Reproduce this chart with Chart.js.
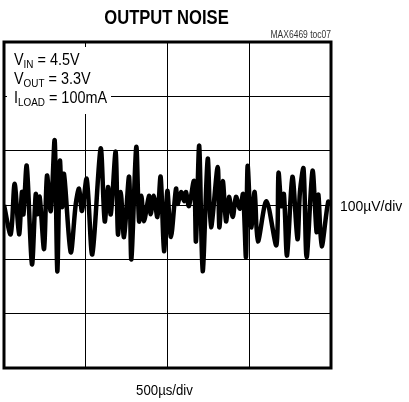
<!DOCTYPE html>
<html>
<head>
<meta charset="utf-8">
<script src="https://cdn.jsdelivr.net/npm/chart.js@4/dist/chart.umd.min.js"></script>
<style>
  body { margin: 0; background: #fff; }
  #wrap { width: 409px; height: 402px; }
</style>
</head>
<body>
<div id="wrap"><canvas id="noiseChart"></canvas></div>
<script>
// time in microseconds (500us/div, 4 div)
let timeUs = [0, 41, 65, 92, 110, 119, 139, 171, 194, 205, 218, 245, 263, 286, 310, 326, 342, 355, 367, 408,
    439, 459, 477, 506, 540, 591, 616, 636, 653, 683, 697, 714, 734, 765, 779, 809, 826, 840, 856, 887,
    897, 917, 938, 958, 979, 999, 1021, 1052, 1062, 1083, 1101, 1113, 1131, 1162, 1174, 1194, 1215, 1246, 1266, 1307,
    1317, 1338, 1358, 1376, 1399, 1419, 1443, 1462, 1480, 1490, 1512, 1533, 1553, 1605, 1666, 1679, 1697, 1712, 1731, 1764,
    1795, 1810, 1832, 1851, 1887, 1912, 1923, 1943, 1983, 2000];
// output noise in microvolts (100uV/div)
let noiseUv = [0, -54, 39, -54, 24, -17, 72, -109, 20, -17, 15, -81, 54, -11, 119, -122, 81, -4, 57, -87,
    2, 30, -11, 48, -91, 104, -30, 33, -17, 98, -54, 24, -59, 52, -100, 107, -30, 17, -30, 17,
    -17, 17, -22, 52, -85, 26, -59, 30, 2, 24, 7, 24, -2, 44, -67, 109, -122, 85, -41, 70,
    -41, 44, -30, 15, -22, 15, -7, 20, -96, 72, -41, 24, -67, 7, -74, 59, -2, 20, -93, 52,
    -63, 24, 67, -96, 63, -50, 19, -76, 6, 0];

let xTicks = [0, 500, 1000, 1500, 2000];
let yTicks = [-300, -200, -100, 0, 100, 200, 300];

let points = timeUs.map((t, i) => ({x: t, y: noiseUv[i]}));

// draws text squeezed horizontally, to mimic a condensed face
function narrowText(ctx, txt, x, y, font, sx, align) {
    ctx.save();
    ctx.font = font;
    let w = ctx.measureText(txt).width * sx;
    let left = x;
    if (align === 'center') left = x - w / 2;
    if (align === 'right') left = x - w;
    ctx.translate(left, y);
    ctx.scale(sx, 1);
    ctx.textAlign = 'left';
    ctx.fillText(txt, 0, 0);
    ctx.restore();
    return w;
}

let labelsPlugin = {
    id: 'scopeLabels',
    beforeDatasetsDraw(chart) {
        let ctx = chart.ctx;
        let a = chart.chartArea;
        ctx.save();
        // white patch behind the condition text
        ctx.fillStyle = '#fff';
        ctx.fillRect(a.left + 3, a.top + 5, 104, 67);
        ctx.restore();
    },
    afterDraw(chart) {
        let ctx = chart.ctx;
        let a = chart.chartArea;
        ctx.save();
        ctx.strokeStyle = '#000';
        ctx.lineWidth = 3;
        ctx.strokeRect(a.left, a.top, a.right - a.left, a.bottom - a.top);

        let cx = (a.left + a.right) / 2;
        ctx.fillStyle = '#000';
        ctx.textBaseline = 'alphabetic';
        narrowText(ctx, 'OUTPUT NOISE', cx - 1, 24, 'bold 20px Arial, "Liberation Sans", sans-serif', 0.83, 'center');

        ctx.fillStyle = '#333';
        narrowText(ctx, 'MAX6469 toc07', a.right, 38, '10px Arial, "Liberation Sans", sans-serif', 0.85, 'right');

        ctx.fillStyle = '#000';
        narrowText(ctx, '100\u00b5V/div', a.right + 9, 211, '15px Arial, "Liberation Sans", sans-serif', 0.93, 'left');
        narrowText(ctx, '500\u00b5s/div', cx - 3, 395, '15px Arial, "Liberation Sans", sans-serif', 0.88, 'center');

        // conditions with subscripts
        let lines = [['V', 'IN', ' = 4.5V'], ['V', 'OUT', ' = 3.3V'], ['I', 'LOAD', ' = 100mA']];
        lines.forEach((l, i) => {
            let x = a.left + 10;
            let y = 65 + i * 19;
            x += narrowText(ctx, l[0], x, y, '16px Arial, "Liberation Sans", sans-serif', 0.9, 'left');
            x += narrowText(ctx, l[1], x, y + 3, '11px Arial, "Liberation Sans", sans-serif', 0.9, 'left');
            narrowText(ctx, l[2], x, y, '16px Arial, "Liberation Sans", sans-serif', 0.9, 'left');
        });
        ctx.restore();
    }
};

let noiseChart = new Chart(document.getElementById('noiseChart').getContext('2d'), {
    type: 'line',
    data: {
        datasets: [{
            data: points,
            borderColor: '#000',
            borderWidth: 4.5,
            pointRadius: 0,
            tension: 0.3,
            fill: false
        }]
    },
    options: {
        responsive: true,
        maintainAspectRatio: false,
        animation: false,
        layout: {padding: {left: 4, right: 78, top: 42, bottom: 34}},
        plugins: {legend: {display: false}, tooltip: {enabled: false}},
        scales: {
            x: {
                type: 'linear',
                min: xTicks[0],
                max: xTicks[xTicks.length - 1],
                afterBuildTicks: s => { s.ticks = xTicks.map(v => ({value: v})); },
                ticks: {display: false},
                grid: {color: '#000', lineWidth: 1, drawTicks: false},
                border: {display: false}
            },
            y: {
                min: yTicks[0],
                max: yTicks[yTicks.length - 1],
                afterBuildTicks: s => { s.ticks = yTicks.map(v => ({value: v})); },
                ticks: {display: false},
                grid: {color: '#000', lineWidth: 1, drawTicks: false},
                border: {display: false}
            }
        }
    },
    plugins: [labelsPlugin]
});
</script>
</body>
</html>
